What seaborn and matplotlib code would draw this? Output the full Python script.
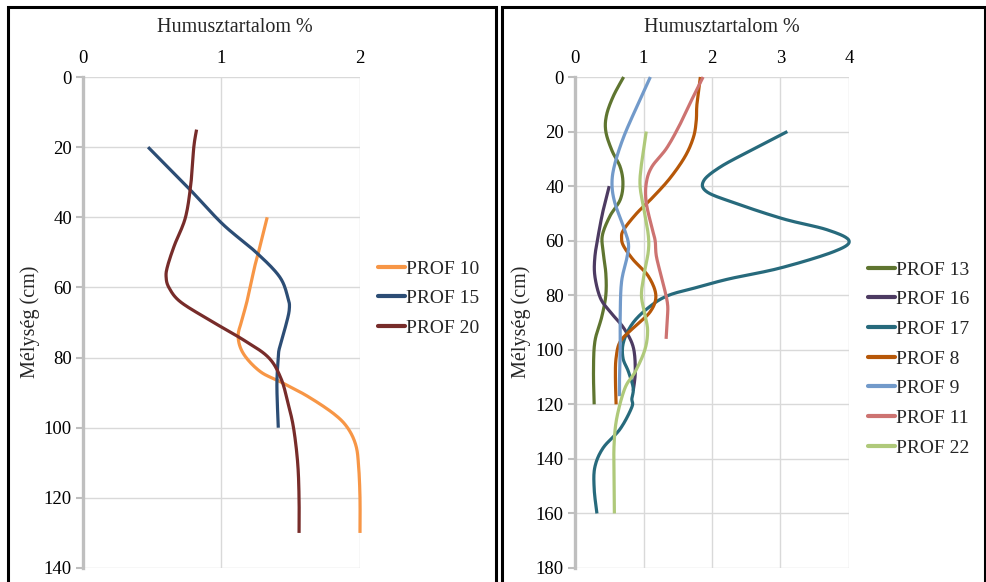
import numpy as np
import pandas as pd
import matplotlib
matplotlib.use("Agg")
import matplotlib.pyplot as plt
import seaborn as sns
from matplotlib.patches import Rectangle
from matplotlib.lines import Line2D

# ---------------- data ----------------
left_series = ["PROF 10", "PROF 15", "PROF 20"]
right_series = ["PROF 13", "PROF 16", "PROF 17", "PROF 8", "PROF 9", "PROF 11", "PROF 22"]

prof10_depth = [40, 48, 54, 63, 69, 74, 79, 84, 87, 91, 96, 100, 105, 111, 120, 130]
prof10_value = [1.33, 1.28, 1.24, 1.19, 1.15, 1.12, 1.16, 1.28, 1.43, 1.62, 1.81, 1.91, 1.97, 1.99, 2.0, 2.0]

prof15_depth = [20, 32, 42, 50, 57, 63, 66, 70, 77, 80, 88, 100]
prof15_value = [0.47, 0.77, 1.01, 1.25, 1.42, 1.48, 1.49, 1.47, 1.42, 1.41, 1.40, 1.41]

prof20_depth = [15, 20, 30, 40, 48, 54, 57, 60, 64, 69, 75, 80, 86, 93, 100, 110, 120, 130]
prof20_value = [0.82, 0.80, 0.78, 0.74, 0.66, 0.61, 0.60, 0.62, 0.70, 0.90, 1.16, 1.34, 1.43, 1.48, 1.52, 1.55, 1.56, 1.56]

prof13_depth = [0, 7, 14, 20, 27, 33, 39, 45, 51, 58, 64, 72, 80, 88, 97, 108, 120]
prof13_value = [0.71, 0.56, 0.46, 0.45, 0.54, 0.66, 0.70, 0.66, 0.51, 0.40, 0.41, 0.45, 0.45, 0.39, 0.29, 0.27, 0.28]

prof16_depth = [40, 49, 58, 66, 73, 81, 86, 92, 99, 108, 115]
prof16_value = [0.50, 0.41, 0.34, 0.29, 0.29, 0.37, 0.51, 0.71, 0.85, 0.88, 0.85]

prof17_depth = [20, 27, 33, 38, 42, 46, 52, 56, 60, 64, 70, 74, 77, 80, 84, 90, 97, 103, 108, 114, 118, 121, 129, 136, 143, 151, 160]
prof17_value = [3.10, 2.56, 2.12, 1.88, 1.92, 2.31, 3.04, 3.68, 4.0, 3.78, 3.0, 2.25, 1.80, 1.37, 1.10, 0.85, 0.71, 0.70, 0.78, 0.85, 0.83, 0.83, 0.66, 0.41, 0.29, 0.28, 0.32]

prof8_depth = [0, 10, 16, 22, 29, 37, 44, 50, 56, 59, 62, 67, 73, 80, 86, 92, 97, 103, 110, 120]
prof8_value = [1.83, 1.78, 1.77, 1.73, 1.61, 1.39, 1.14, 0.90, 0.71, 0.68, 0.71, 0.85, 1.07, 1.18, 1.10, 0.85, 0.66, 0.60, 0.59, 0.60]

prof9_depth = [0, 11, 22, 32, 39, 46, 55, 61, 66, 75, 87, 99, 110, 117]
prof9_value = [1.10, 0.90, 0.71, 0.58, 0.54, 0.58, 0.71, 0.78, 0.76, 0.68, 0.66, 0.66, 0.65, 0.65]

prof11_depth = [0, 7, 17, 26, 33, 39, 46, 55, 60, 66, 76, 83, 88, 96]
prof11_value = [1.87, 1.73, 1.54, 1.34, 1.12, 1.04, 1.04, 1.12, 1.17, 1.19, 1.29, 1.35, 1.35, 1.33]

prof22_depth = [20, 32, 40, 49, 58, 64, 72, 80, 87, 93, 100, 108, 114, 125, 135, 146, 160]
prof22_value = [1.04, 0.97, 0.95, 1.01, 1.07, 1.07, 1.01, 0.97, 1.02, 1.06, 1.02, 0.88, 0.73, 0.61, 0.57, 0.57, 0.575]

left_ticks_x = [0, 1, 2]
left_ticks_y = [0, 20, 40, 60, 80, 100, 120, 140]
right_ticks_x = [0, 1, 2, 3, 4]
right_ticks_y = [0, 20, 40, 60, 80, 100, 120, 140, 160, 180]

x_title = "Humusztartalom %"
y_title = "Mélység (cm)"

colors = {
    "PROF 10": "#F79646", "PROF 15": "#2C4D75", "PROF 20": "#772C2A",
    "PROF 13": "#5F7530", "PROF 16": "#4D3B62", "PROF 17": "#276A7C",
    "PROF 8": "#B65708", "PROF 9": "#729ACA", "PROF 11": "#CD7371",
    "PROF 22": "#AFC97A",
}

series_data = {
    "PROF 10": (prof10_value, prof10_depth),
    "PROF 15": (prof15_value, prof15_depth),
    "PROF 20": (prof20_value, prof20_depth),
    "PROF 13": (prof13_value, prof13_depth),
    "PROF 16": (prof16_value, prof16_depth),
    "PROF 17": (prof17_value, prof17_depth),
    "PROF 8": (prof8_value, prof8_depth),
    "PROF 9": (prof9_value, prof9_depth),
    "PROF 11": (prof11_value, prof11_depth),
    "PROF 22": (prof22_value, prof22_depth),
}


def smooth(xs, ys, n=16):
    """Excel-like smoothed line: Catmull-Rom style cubic Bezier through the points."""
    P = np.column_stack([xs, ys]).astype(float)
    E = np.vstack([P[0], P, P[-1]])
    t = np.linspace(0, 1, n, endpoint=False)[:, None]
    out = []
    for i in range(1, len(E) - 2):
        p0, p1, p2, p3 = E[i - 1], E[i], E[i + 1], E[i + 2]
        c1 = p1 + (p2 - p0) / 6.0
        c2 = p2 - (p3 - p1) / 6.0
        seg = ((1 - t) ** 3) * p1 + 3 * (1 - t) ** 2 * t * c1 + 3 * (1 - t) * t ** 2 * c2 + t ** 3 * p2
        out.append(seg)
    out.append(P[-1:])
    return np.vstack(out)


def build_frame(names):
    rows = []
    for name in names:
        v, d = series_data[name]
        s = smooth(v, d)
        rows.append(pd.DataFrame({"value": s[:, 0], "depth": s[:, 1], "series": name}))
    return pd.concat(rows, ignore_index=True)


# ---------------- styling ----------------
sns.set_theme(style="white")
plt.rcParams["font.family"] = ["Liberation Serif", "DejaVu Serif"]

W, H = 987, 582
fig = plt.figure(figsize=(W / 100, H / 100), dpi=100)


def px_axes(x0, x1, y_top, y_bot):
    return fig.add_axes([x0 / W, 1 - y_bot / H, (x1 - x0) / W, (y_bot - y_top) / H])


ax_l = px_axes(83, 360, 77, 568)
ax_r = px_axes(575, 849, 77, 568)

grid_c = "#d9d9d9"
axis_c = "#bfbfbf"


def style_axis(ax, names, xlim, ylim, xt, yt, legend_xy, title_x, ylabel_x):
    df = build_frame(names)
    sns.lineplot(data=df, x="value", y="depth", hue="series", hue_order=names,
                 palette=colors, sort=False, estimator=None, linewidth=2.3,
                 legend=False, ax=ax)
    for ln in ax.get_lines():
        ln.set_clip_on(False)
        ln.set_solid_capstyle("butt")
        ln.set_zorder(3)
    ax.set_xlim(*xlim)
    ax.set_ylim(*ylim)
    ax.set_xticks(xt)
    ax.set_yticks(yt)
    ax.set_xlabel("")
    ax.set_ylabel("")
    ax.grid(True, color=grid_c, linewidth=1.0)
    ax.set_axisbelow(True)
    for s in ["top", "right", "bottom"]:
        ax.spines[s].set_visible(False)
    ax.spines["left"].set_color(axis_c)
    ax.spines["left"].set_linewidth(2.4)
    ax.spines["left"].set_zorder(2.5)
    ax.xaxis.tick_top()
    ax.tick_params(axis="x", which="both", top=True, bottom=False, labeltop=True,
                   labelbottom=False, length=0, pad=7, labelsize=13.5, colors="black")
    ax.tick_params(axis="y", which="both", left=True, length=5, width=1.5,
                   color=axis_c, pad=3, labelsize=13.5, labelcolor="black")
    handles = [Line2D([0], [0], color=colors[n], lw=3.0) for n in names]
    fig.legend(handles, names, loc="upper left",
               bbox_to_anchor=(legend_xy[0] / W, 1 - legend_xy[1] / H),
               frameon=False, fontsize=14, handlelength=1.4, handletextpad=0.05,
               labelspacing=0.62, borderpad=0, borderaxespad=0)
    fig.text(title_x / W, 1 - 27 / H, x_title, ha="center", va="center", fontsize=14.5)
    fig.text(ylabel_x / W, 1 - 322 / H, y_title, ha="center", va="center",
             rotation=90, fontsize=14.5)


style_axis(ax_l, left_series, (0, 2), (140, 0), left_ticks_x, left_ticks_y,
           (378, 260), 235, 30)
style_axis(ax_r, right_series, (0, 4), (180, 0), right_ticks_x, right_ticks_y,
           (868, 261), 722, 521)

# panel borders
for x0, x1 in [(8, 496), (502, 985)]:
    fig.add_artist(Rectangle((x0 / W, -0.05), (x1 - x0) / W, 1.05 - 7 / H,
                             transform=fig.transFigure, fill=False,
                             edgecolor="black", linewidth=2.2, clip_on=False))

fig.savefig("out.png", dpi=100)
